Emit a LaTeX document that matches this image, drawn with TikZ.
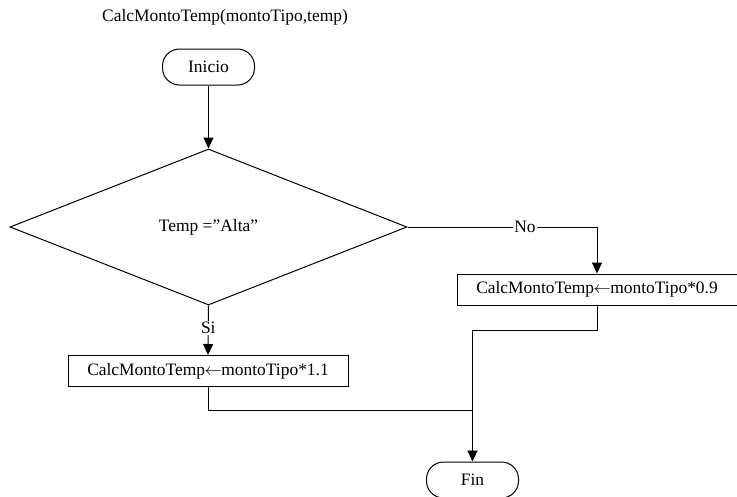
\documentclass[tikz,border=0pt]{standalone}
\usepackage{fontspec}
\setmainfont{Liberation Serif}
\usetikzlibrary{shapes.geometric,arrows.meta}
\newcommand{\asig}{\kern-.5pt$\leftarrow$\kern-.5pt}
\begin{document}
\begin{tikzpicture}[x=10bp,y=-10bp,line width=1bp,
  every node/.style={font=\fontsize{17.5}{21}\selectfont},
  term/.style={draw,rectangle,rounded corners=17bp,minimum width=92bp,minimum height=36bp,inner sep=0pt},
  proc/.style={draw,rectangle,minimum width=280bp,minimum height=31bp,inner sep=0pt},
  cond/.style={draw,diamond,minimum width=397bp,minimum height=156bp,inner sep=0pt},
  lbl/.style={fill=white,inner sep=1pt},
  flow/.style={-{Triangle[length=11bp,width=10bp]}}]
\useasboundingbox (0,0) rectangle (73.7,49.7);
\node (titulo) at (22.5,1.7) {CalcMontoTemp(montoTipo,temp)};
\node[term] (inicio) at (20.85,6.7) {Inicio};
\node[cond] (temp) at (20.85,22.7) {Temp =”Alta”};
\node[proc] (alta) at (20.8,37.1) {CalcMontoTemp\asig montoTipo*1.1};
\node[proc] (otra) at (59.7,28.95) {CalcMontoTemp\asig montoTipo*0.9};
\node[term] (fin) at (47.25,48.0) {Fin};
\coordinate (unoF) at (47.25,33.0);
\coordinate (unoT) at (47.25,41.0);
\draw[flow] (inicio) -- (temp.north);
\draw[flow] (temp.east) -- node[lbl,pos=.62] {No} (temp.east -| otra.north) -- (otra.north);
\draw[flow] (temp.south) -- node[lbl,pos=.45] {Si} (alta.north);
\draw (alta.south) |- (unoT);
\draw[flow] (otra.south) |- (unoF) -- (fin.north);
\end{tikzpicture}
\end{document}
